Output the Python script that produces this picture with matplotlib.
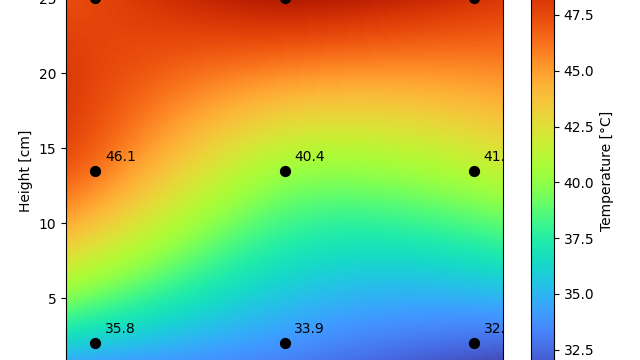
import numpy as np
import matplotlib
matplotlib.use("Agg")
import matplotlib.pyplot as plt

# Sensor positions and readings
x_pos = [2.0, 15.0, 28.0]          # cm
y_pos = [2.0, 13.5, 25.0]          # cm (height)
temps_bottom = [35.8, 33.9, 32.6]
temps_middle = [46.1, 40.4, 41.1]
temps_top = [47.6, 49.6, 48.4]
vmin, vmax = 29.8, 51.2

X, Y = np.meshgrid(x_pos, y_pos)
T = np.array([temps_bottom, temps_middle, temps_top])
px, py, pt = X.ravel(), Y.ravel(), T.ravel()

gx = np.linspace(0, 30, 301)
gy = np.linspace(0, 27, 271)
GX, GY = np.meshgrid(gx, gy)


def lagrange_basis(nodes, q):
    B = np.ones((len(nodes), len(q)))
    for i, ni in enumerate(nodes):
        for j, nj in enumerate(nodes):
            if i != j:
                B[i] *= (q - nj) / (ni - nj)
    return B


def tps(r):
    with np.errstate(all="ignore"):
        v = r ** 2 * np.log(r)
    return np.nan_to_num(v)


# biquadratic interpolation
field_bq = lagrange_basis(y_pos, gy).T @ T @ lagrange_basis(x_pos, gx)

# thin-plate-spline interpolation
n = len(px)
D = np.hypot(px[:, None] - px, py[:, None] - py)
P = np.column_stack([np.ones(n), px, py])
A = np.block([[tps(D), P], [P.T, np.zeros((3, 3))]])
sol = np.linalg.solve(A, np.concatenate([pt, np.zeros(3)]))
wts, poly = sol[:n], sol[n:]
R = np.hypot(GX[..., None] - px, GY[..., None] - py)
field_tps = tps(R) @ wts + poly[0] + poly[1] * GX + poly[2] * GY

GT = 0.5 * (field_bq + field_tps)

W, H = 640, 360
fig = plt.figure(figsize=(6.4, 3.6), dpi=100)

# main axes (extends beyond figure, like the cropped reference)
ax_l, ax_r = 66, 503
y_bot_px = 373.0   # y=0
y_top_px = 373.0 - 15.0 * 27
ax = fig.add_axes([ax_l / W, (H - y_bot_px) / H, (ax_r - ax_l) / W,
                   (y_bot_px - y_top_px) / H])
im = ax.imshow(GT, extent=(0, 30, 0, 27), origin="lower", cmap="turbo",
               vmin=vmin, vmax=vmax, aspect="auto", interpolation="bilinear")
ax.scatter(px, py, s=50, color="black", zorder=3)
for xi, yi, ti in zip(px, py, pt):
    ax.annotate(f"{ti:.1f}", (xi, yi), xytext=(7, 7), textcoords="offset points",
                fontsize=10, annotation_clip=False, clip_on=True)
ax.set_xlim(0, 30)
ax.set_ylim(0, 27)
ax.set_yticks([5, 10, 15, 20, 25])
ax.set_ylabel("Height [cm]")

# colorbar
cb_l, cb_r = 531, 554
cb_top = 15 - (vmax - 47.5) * 22.3
cb_bot = 15 - (vmin - 47.5) * 22.3
cax = fig.add_axes([cb_l / W, (H - cb_bot) / H, (cb_r - cb_l) / W,
                    (cb_bot - cb_top) / H])
cb = fig.colorbar(im, cax=cax)
cb.set_ticks([30.0, 32.5, 35.0, 37.5, 40.0, 42.5, 45.0, 47.5, 50.0])
cb.set_label("Temperature [°C]")

fig.savefig("out.png", dpi=100)
